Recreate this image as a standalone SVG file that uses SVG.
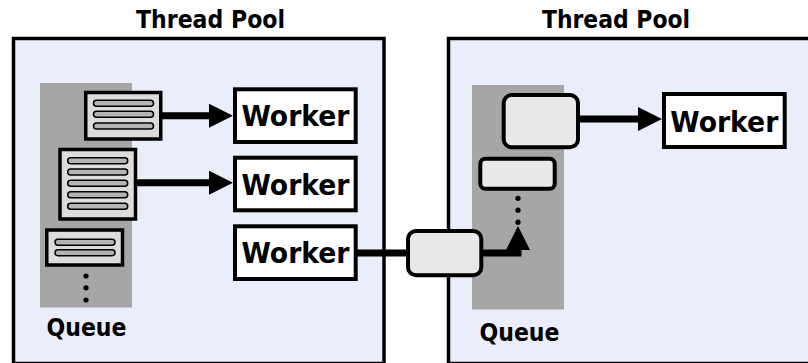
<svg xmlns="http://www.w3.org/2000/svg" width="808" height="363" viewBox="0 0 808 363">
  <style>
    .pool { fill: #eaeefb; stroke: #000; stroke-width: 3.5; }
    .queue { fill: #a6a6a6; }
    .title { font-family: "DejaVu Sans Condensed", "DejaVu Sans", "Liberation Sans", sans-serif; font-stretch: condensed; font-weight: bold; font-size: 25px; fill: #000; }
    .label { font-family: "DejaVu Sans Condensed", "DejaVu Sans", "Liberation Sans", sans-serif; font-stretch: condensed; font-weight: bold; font-size: 24.5px; fill: #000; }
    .worker rect { fill: #fff; stroke: #000; stroke-width: 4; }
    .worker text { font-family: "DejaVu Sans Condensed", "DejaVu Sans", "Liberation Sans", sans-serif; font-stretch: condensed; font-weight: bold; font-size: 29px; fill: #000; }
    .task { fill: #dcdcdc; stroke: #000; stroke-width: 3.5; }
    .line { fill: #b4b4b4; stroke: #000; stroke-width: 1.5; }
    .job { fill: #e8e8e8; stroke: #000; stroke-width: 4; }
    .dot { fill: #000; }
    .link { fill: none; stroke: #000; stroke-width: 7; stroke-linejoin: miter; }
  </style>
  <defs>
    <marker id="head" markerUnits="userSpaceOnUse" markerWidth="24" markerHeight="24" viewBox="0 0 24 24" refX="0" refY="12" orient="auto">
      <path d="M0,0 L24,12 L0,24 z" fill="#000"/>
    </marker>
  </defs>

  <!-- background -->
  <rect width="808" height="363" fill="#fff"/>

  <!-- left thread pool container -->
  <g id="pool-left">
    <rect class="pool" x="13.5" y="38.5" width="370.5" height="325"/>
    <text class="title" x="136" y="28.2" textLength="149" lengthAdjust="spacingAndGlyphs">Thread Pool</text>
    <rect class="queue" x="40" y="83" width="92" height="224.5"/>
    <text class="label" x="46.5" y="335.5" textLength="80" lengthAdjust="spacingAndGlyphs">Queue</text>
  </g>

  <!-- right thread pool container -->
  <g id="pool-right">
    <rect class="pool" x="448.5" y="38.5" width="365" height="325"/>
    <text class="title" x="542" y="28.2" textLength="148" lengthAdjust="spacingAndGlyphs">Thread Pool</text>
    <rect class="queue" x="472" y="85" width="92" height="224.5"/>
    <text class="label" x="479.5" y="340.5" textLength="80" lengthAdjust="spacingAndGlyphs">Queue</text>
  </g>

  <!-- connectors -->
  <g id="connectors">
    <path class="link" d="M161 115.7 H209" marker-end="url(#head)"/>
    <path class="link" d="M136 182.7 H209" marker-end="url(#head)"/>
    <path class="link" d="M579 119 H638" marker-end="url(#head)"/>
    <path class="link" d="M357 253 H408"/>
    <path class="link" d="M481 253 H518 V250" marker-end="url(#head)"/>
  </g>

  <!-- queued tasks, left pool -->
  <g id="task-1">
    <rect class="task" x="85.75" y="92.5" width="75" height="46.5"/>
    <rect class="line" x="93.5" y="100.3" width="60" height="6" rx="3"/>
    <rect class="line" x="93.5" y="111.3" width="60" height="6" rx="3"/>
    <rect class="line" x="93.5" y="123" width="60" height="6" rx="3"/>
  </g>
  <g id="task-2">
    <rect class="task" x="60" y="149.5" width="75.5" height="69.5"/>
    <rect class="line" x="67.7" y="157.7" width="60" height="6" rx="3"/>
    <rect class="line" x="67.7" y="169" width="60" height="6" rx="3"/>
    <rect class="line" x="67.7" y="180.3" width="60" height="6" rx="3"/>
    <rect class="line" x="67.7" y="191.7" width="60" height="6" rx="3"/>
    <rect class="line" x="67.7" y="203.3" width="60" height="6" rx="3"/>
  </g>
  <g id="task-3">
    <rect class="task" x="46.75" y="230" width="75.75" height="35"/>
    <rect class="line" x="55" y="239.3" width="60" height="6" rx="3"/>
    <rect class="line" x="55" y="249.7" width="60" height="6" rx="3"/>
  </g>
  <g id="queue-left-more">
    <circle class="dot" cx="86" cy="276" r="2.6"/>
    <circle class="dot" cx="86" cy="287.8" r="2.6"/>
    <circle class="dot" cx="86" cy="300" r="2.6"/>
  </g>

  <!-- workers, left pool -->
  <g id="worker-1" class="worker">
    <rect x="235" y="89.3" width="120.7" height="52.7"/>
    <text x="241.5" y="126.2" textLength="108" lengthAdjust="spacingAndGlyphs">Worker</text>
  </g>
  <g id="worker-2" class="worker">
    <rect x="235" y="157.7" width="120.7" height="52.6"/>
    <text x="241.5" y="194.5" textLength="108" lengthAdjust="spacingAndGlyphs">Worker</text>
  </g>
  <g id="worker-3" class="worker">
    <rect x="235" y="226.3" width="120.7" height="52.7"/>
    <text x="241.5" y="263.2" textLength="108" lengthAdjust="spacingAndGlyphs">Worker</text>
  </g>

  <!-- job handed between pools -->
  <g id="job-transfer">
    <rect class="job" x="408" y="231" width="73.3" height="44.3" rx="8"/>
  </g>

  <!-- queued jobs, right pool -->
  <g id="job-1">
    <rect class="job" x="503.7" y="95" width="74.3" height="52.3" rx="8"/>
  </g>
  <g id="job-2">
    <rect class="job" x="480.3" y="158.7" width="74.4" height="30" rx="5"/>
  </g>
  <g id="queue-right-more">
    <circle class="dot" cx="518" cy="198.3" r="2.6"/>
    <circle class="dot" cx="518" cy="210.2" r="2.6"/>
    <circle class="dot" cx="518" cy="222.2" r="2.6"/>
  </g>

  <!-- worker, right pool -->
  <g id="worker-4" class="worker">
    <rect x="664" y="94" width="120.7" height="53"/>
    <text x="670.3" y="131.5" textLength="108" lengthAdjust="spacingAndGlyphs">Worker</text>
  </g>
</svg>
